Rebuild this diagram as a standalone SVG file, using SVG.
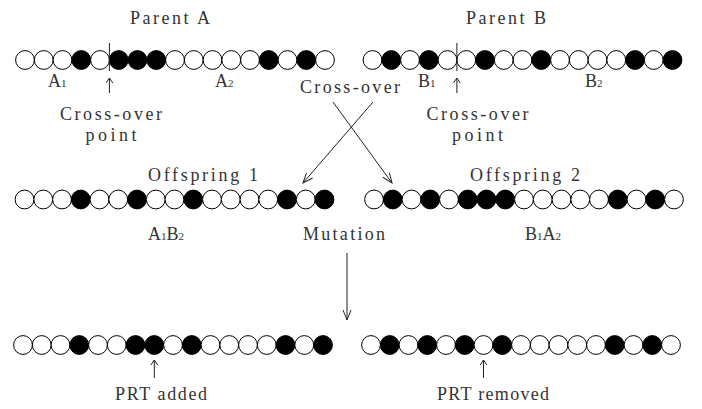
<svg xmlns="http://www.w3.org/2000/svg" width="702" height="409" viewBox="0 0 702 409">
<style>
.w{fill:#fff;stroke:#000;stroke-width:1}
.b{fill:#000;stroke:#000;stroke-width:1}
.t{font-family:"Liberation Serif","DejaVu Serif",serif;font-size:18px;fill:#333}
.m{text-anchor:middle}
.s{font-size:11px}
.ln{stroke:#222;stroke-width:1;fill:none}
</style>
<defs>
<marker id="ah" markerWidth="12" markerHeight="10" refX="11" refY="5" orient="auto" markerUnits="userSpaceOnUse">
<path d="M1,1 L11,5 L1,9" fill="none" stroke="#222" stroke-width="1"/>
</marker>
</defs>
<rect width="702" height="409" fill="#fff"/>

<g id="parentA">
<text class="t m" x="170" y="24" textLength="80">Parent A</text>
<g transform="translate(25,60)">
<circle class="w" cx="0" r="9.4"/><circle class="w" cx="18.75" r="9.4"/><circle class="w" cx="37.5" r="9.4"/><circle class="b" cx="56.25" r="9.4"/><circle class="w" cx="75" r="9.4"/><circle class="b" cx="93.75" r="9.4"/><circle class="b" cx="112.5" r="9.4"/><circle class="b" cx="131.25" r="9.4"/><circle class="w" cx="150" r="9.4"/><circle class="w" cx="168.75" r="9.4"/><circle class="w" cx="187.5" r="9.4"/><circle class="w" cx="206.25" r="9.4"/><circle class="w" cx="225" r="9.4"/><circle class="b" cx="243.75" r="9.4"/><circle class="w" cx="262.5" r="9.4"/><circle class="b" cx="281.25" r="9.4"/><circle class="w" cx="300" r="9.4"/>
</g>
<line class="ln" x1="109.4" y1="43" x2="109.4" y2="71"/>
<text class="t" x="48" y="87">A<tspan class="s">1</tspan></text>
<text class="t" x="215" y="87">A<tspan class="s">2</tspan></text>
<path class="ln" d="M109.4,93 V78 M106,83 L109.4,78 L112.8,83"/>
<text class="t m" x="111" y="120" textLength="102">Cross-over</text>
<text class="t m" x="111" y="141" textLength="51">point</text>
</g>

<g id="parentB">
<text class="t m" x="506" y="24" textLength="80">Parent B</text>
<g transform="translate(372.5,60)">
<circle class="w" cx="0" r="9.4"/><circle class="b" cx="18.75" r="9.4"/><circle class="w" cx="37.5" r="9.4"/><circle class="b" cx="56.25" r="9.4"/><circle class="w" cx="75" r="9.4"/><circle class="w" cx="93.75" r="9.4"/><circle class="b" cx="112.5" r="9.4"/><circle class="w" cx="131.25" r="9.4"/><circle class="w" cx="150" r="9.4"/><circle class="b" cx="168.75" r="9.4"/><circle class="w" cx="187.5" r="9.4"/><circle class="w" cx="206.25" r="9.4"/><circle class="w" cx="225" r="9.4"/><circle class="w" cx="243.75" r="9.4"/><circle class="b" cx="262.5" r="9.4"/><circle class="w" cx="281.25" r="9.4"/><circle class="b" cx="300" r="9.4"/>
</g>
<line class="ln" x1="456.9" y1="43" x2="456.9" y2="71"/>
<text class="t" x="418" y="87">B<tspan class="s">1</tspan></text>
<text class="t" x="585" y="87">B<tspan class="s">2</tspan></text>
<path class="ln" d="M456.9,93 V78 M453.5,83 L456.9,78 L460.3,83"/>
<text class="t m" x="477.5" y="120" textLength="102">Cross-over</text>
<text class="t m" x="477.5" y="141" textLength="51">point</text>
</g>

<g id="crossover">
<text class="t m" x="350" y="93" textLength="100">Cross-over</text>
</g>

<g id="offspring1">
<text class="t m" x="203" y="181" textLength="110">Offspring 1</text>
<g transform="translate(24.5,199.5)">
<circle class="w" cx="0" r="9.4"/><circle class="w" cx="18.75" r="9.4"/><circle class="w" cx="37.5" r="9.4"/><circle class="b" cx="56.25" r="9.4"/><circle class="w" cx="75" r="9.4"/><circle class="w" cx="93.75" r="9.4"/><circle class="b" cx="112.5" r="9.4"/><circle class="w" cx="131.25" r="9.4"/><circle class="w" cx="150" r="9.4"/><circle class="b" cx="168.75" r="9.4"/><circle class="w" cx="187.5" r="9.4"/><circle class="w" cx="206.25" r="9.4"/><circle class="w" cx="225" r="9.4"/><circle class="w" cx="243.75" r="9.4"/><circle class="b" cx="262.5" r="9.4"/><circle class="w" cx="281.25" r="9.4"/><circle class="b" cx="300" r="9.4"/>
</g>
<text class="t" x="148" y="240">A<tspan class="s">1</tspan>B<tspan class="s">2</tspan></text>
</g>

<g id="offspring2">
<text class="t m" x="525" y="181" textLength="110">Offspring 2</text>
<g transform="translate(374,199.5)">
<circle class="w" cx="0" r="9.4"/><circle class="b" cx="18.75" r="9.4"/><circle class="w" cx="37.5" r="9.4"/><circle class="b" cx="56.25" r="9.4"/><circle class="w" cx="75" r="9.4"/><circle class="b" cx="93.75" r="9.4"/><circle class="b" cx="112.5" r="9.4"/><circle class="b" cx="131.25" r="9.4"/><circle class="w" cx="150" r="9.4"/><circle class="w" cx="168.75" r="9.4"/><circle class="w" cx="187.5" r="9.4"/><circle class="w" cx="206.25" r="9.4"/><circle class="w" cx="225" r="9.4"/><circle class="b" cx="243.75" r="9.4"/><circle class="w" cx="262.5" r="9.4"/><circle class="b" cx="281.25" r="9.4"/><circle class="w" cx="300" r="9.4"/>
</g>
<text class="t" x="525" y="240">B<tspan class="s">1</tspan>A<tspan class="s">2</tspan></text>
</g>

<g id="mutation">
<text class="t m" x="344" y="240" textLength="82">Mutation</text>
</g>

<g id="mutant1">
<g transform="translate(23,345)">
<circle class="w" cx="0" r="9.4"/><circle class="w" cx="18.75" r="9.4"/><circle class="w" cx="37.5" r="9.4"/><circle class="b" cx="56.25" r="9.4"/><circle class="w" cx="75" r="9.4"/><circle class="w" cx="93.75" r="9.4"/><circle class="b" cx="112.5" r="9.4"/><circle class="b" cx="131.25" r="9.4"/><circle class="w" cx="150" r="9.4"/><circle class="b" cx="168.75" r="9.4"/><circle class="w" cx="187.5" r="9.4"/><circle class="w" cx="206.25" r="9.4"/><circle class="w" cx="225" r="9.4"/><circle class="w" cx="243.75" r="9.4"/><circle class="b" cx="262.5" r="9.4"/><circle class="w" cx="281.25" r="9.4"/><circle class="b" cx="300" r="9.4"/>
</g>
<path class="ln" d="M154.3,378 V360 M150.9,365 L154.3,360 L157.7,365"/>
<text class="t m" x="161" y="400" textLength="92">PRT added</text>
</g>

<g id="mutant2">
<g transform="translate(371,345)">
<circle class="w" cx="0" r="9.4"/><circle class="b" cx="18.75" r="9.4"/><circle class="w" cx="37.5" r="9.4"/><circle class="b" cx="56.25" r="9.4"/><circle class="w" cx="75" r="9.4"/><circle class="b" cx="93.75" r="9.4"/><circle class="w" cx="112.5" r="9.4"/><circle class="b" cx="131.25" r="9.4"/><circle class="w" cx="150" r="9.4"/><circle class="w" cx="168.75" r="9.4"/><circle class="w" cx="187.5" r="9.4"/><circle class="w" cx="206.25" r="9.4"/><circle class="w" cx="225" r="9.4"/><circle class="b" cx="243.75" r="9.4"/><circle class="w" cx="262.5" r="9.4"/><circle class="b" cx="281.25" r="9.4"/><circle class="w" cx="300" r="9.4"/>
</g>
<path class="ln" d="M483.5,378 V360 M480.1,365 L483.5,360 L486.9,365"/>
<text class="t m" x="493" y="400" textLength="112">PRT removed</text>
</g>

<g id="connectors">
<line class="ln" x1="373" y1="102" x2="303" y2="183" marker-end="url(#ah)"/>
<line class="ln" x1="333" y1="102" x2="392" y2="183" marker-end="url(#ah)"/>
<line class="ln" x1="347" y1="253" x2="347" y2="320" marker-end="url(#ah)"/>
</g>
</svg>
